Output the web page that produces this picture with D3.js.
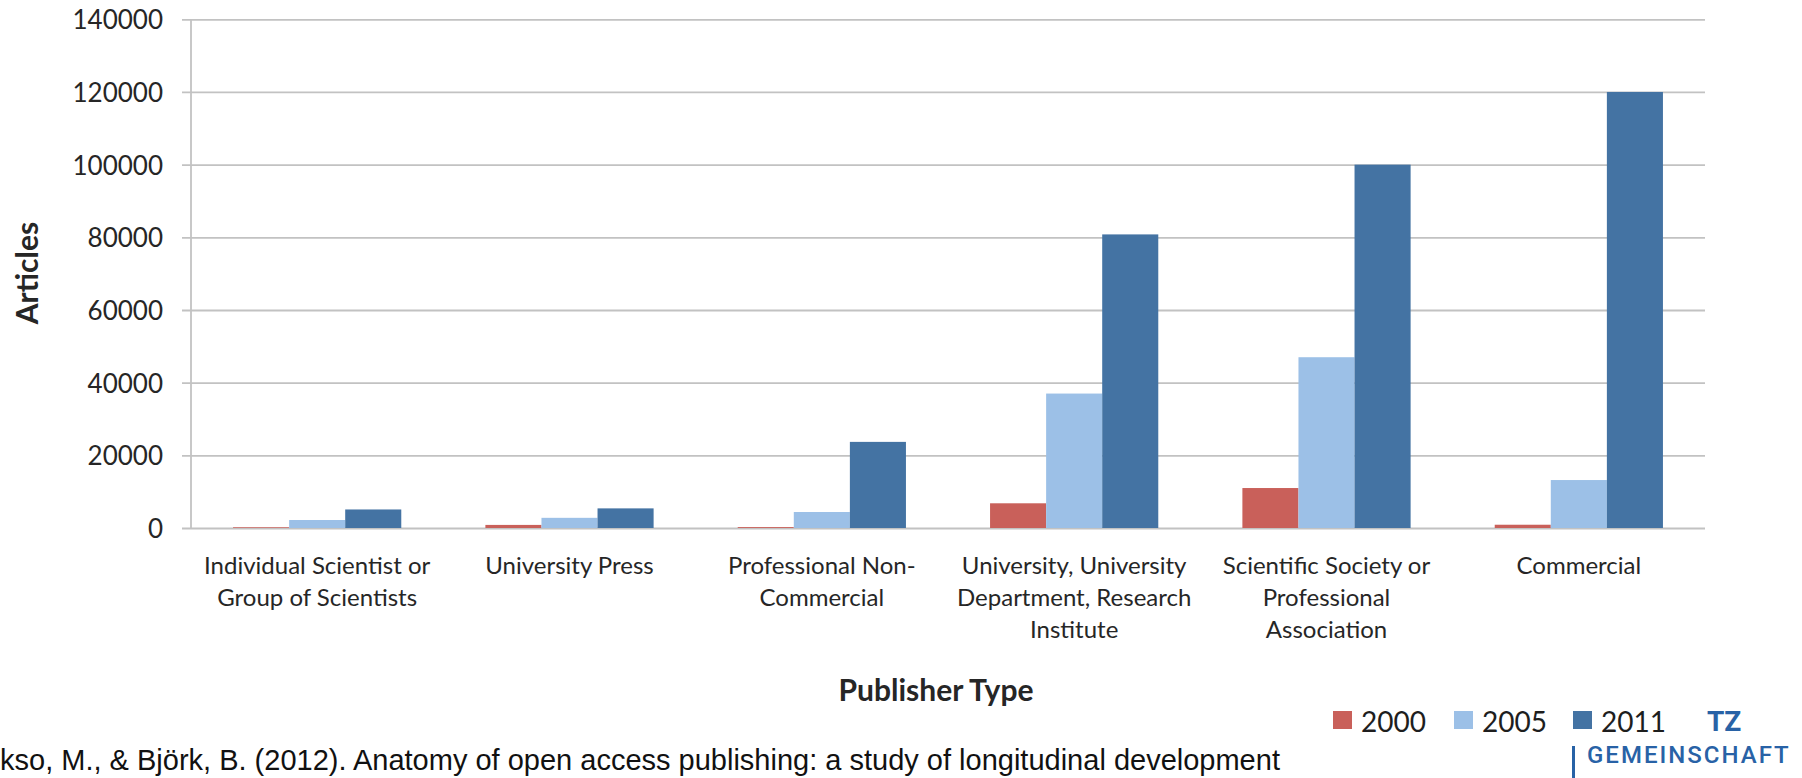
<!DOCTYPE html>
<html>
<head>
<meta charset="utf-8">
<script src="https://cdn.jsdelivr.net/npm/d3@7"></script>
<style>
  html, body { margin: 0; padding: 0; background: #ffffff; }
  svg { display: block; }
</style>
</head>
<body>
<svg id="chart" width="1802" height="778"></svg>
<script>
const categories = [
  "Individual Scientist or Group of Scientists",
  "University Press",
  "Professional Non-Commercial",
  "University, University Department, Research Institute",
  "Scientific Society or Professional Association",
  "Commercial"
];
const categoryLines = [
  ["Individual Scientist or", "Group of Scientists"],
  ["University Press"],
  ["Professional Non-", "Commercial"],
  ["University, University", "Department, Research", "Institute"],
  ["Scientific Society or", "Professional", "Association"],
  ["Commercial"]
];
const years = ["2000", "2005", "2011"];
const values2000 = [200, 850, 250, 6800, 11000, 900];
const values2005 = [2200, 2800, 4400, 37000, 47000, 13200];
const values2011 = [5100, 5400, 23700, 80800, 100000, 120000];
const yTicks = [0, 20000, 40000, 60000, 80000, 100000, 120000, 140000];
const colors = ["#c9605a", "#9cc0e7", "#4473a3"];
const yTitle = "Articles";
const xTitle = "Publisher Type";
const citation = "kso, M., & Björk, B. (2012). Anatomy of open access publishing: a study of longitudinal development";

(function draw() {
const series = [values2000, values2005, values2011];
const svg = d3.select("#chart");

const pLeft = 191, pRight = 1705, pTop = 19.3, pBottom = 528;
const x = d3.scaleBand().domain(categories).range([pLeft, pRight]);
const xs = d3.scaleBand().domain(years).range([0, x.bandwidth()]).paddingOuter(0.75).paddingInner(0);
const y = d3.scaleLinear().domain([0, 140000]).range([pBottom, pTop]);

const textColor = "#262626";
const gridColor = "#c2c2c2";

// Gridlines + y axis
const yAxis = d3.axisLeft(y).tickValues(yTicks).tickSize(-(pRight - pLeft)).tickPadding(28).tickFormat(d3.format("d"));
const gy = svg.append("g").attr("transform", `translate(${pLeft},0)`).call(yAxis);
gy.select(".domain").remove();
gy.selectAll(".tick line").attr("stroke", gridColor).attr("stroke-width", 1.8).attr("x1", -9);
gy.selectAll(".tick text")
  .attr("fill", textColor)
  .style("font-family", "Lato, 'Open Sans', sans-serif")
  .style("font-size", "26px")
  .attr("dy", "0.36em");
svg.append("line")
  .attr("x1", pLeft).attr("x2", pLeft)
  .attr("y1", y(140000)).attr("y2", y(0))
  .attr("stroke", gridColor).attr("stroke-width", 1.8);

// Bars
const groups = svg.append("g").selectAll("g")
  .data(categories)
  .join("g")
  .attr("transform", d => `translate(${x(d)},0)`);

groups.selectAll("rect")
  .data((d, i) => years.map((yr, k) => ({ yr, k, v: series[k][i] })))
  .join("rect")
  .attr("x", d => xs(d.yr))
  .attr("width", xs.bandwidth())
  .attr("y", d => y(d.v))
  .attr("height", d => y(0) - y(d.v))
  .attr("fill", d => colors[d.k]);

// Category labels
const lineYs = [564, 596, 628];
categories.forEach((c, i) => {
  const t = svg.append("text")
    .attr("text-anchor", "middle")
    .attr("fill", textColor)
    .style("font-family", "Lato, 'Open Sans', sans-serif")
    .style("font-size", "24px");
  categoryLines[i].forEach((ln, j) => {
    t.append("tspan")
      .attr("x", x(c) + x.bandwidth() / 2)
      .attr("y", lineYs[j])
      .attr("dominant-baseline", "central")
      .text(ln);
  });
});

// Axis titles
svg.append("text")
  .attr("transform", "translate(26,273) rotate(-90)")
  .attr("text-anchor", "middle")
  .attr("dominant-baseline", "central")
  .attr("fill", textColor)
  .style("font-family", "Lato, 'Open Sans', sans-serif")
  .style("font-weight", "bold")
  .style("font-size", "30px")
  .text(yTitle);

svg.append("text")
  .attr("x", 936).attr("y", 689)
  .attr("text-anchor", "middle")
  .attr("dominant-baseline", "central")
  .attr("fill", textColor)
  .style("font-family", "Lato, 'Open Sans', sans-serif")
  .style("font-weight", "bold")
  .style("font-size", "30px")
  .text(xTitle);

// Legend
const legendX = [1333, 1454, 1573];
years.forEach((yr, k) => {
  svg.append("rect")
    .attr("x", legendX[k]).attr("y", 711)
    .attr("width", 19).attr("height", 18)
    .attr("fill", colors[k]);
  svg.append("text")
    .attr("x", legendX[k] + 28).attr("y", 721)
    .attr("dominant-baseline", "central")
    .attr("fill", "#1e1e1e")
    .style("font-family", "Lato, 'Open Sans', sans-serif")
    .style("font-size", "28px")
    .text(yr);
});

// Citation
svg.append("text")
  .attr("x", 0).attr("y", 760)
  .attr("dominant-baseline", "central")
  .attr("fill", "#111")
  .style("font-family", "'Liberation Sans', Arial, sans-serif")
  .style("font-size", "29px")
  .text(citation);

// Logo fragment
svg.append("text")
  .attr("x", 1707).attr("y", 721)
  .attr("dominant-baseline", "central")
  .attr("fill", "#2862a6")
  .style("font-family", "Roboto, 'Noto Sans', sans-serif")
  .style("font-weight", "bold")
  .style("font-size", "28px")
  .text("TZ");
svg.append("rect")
  .attr("x", 1572).attr("y", 746).attr("width", 3).attr("height", 32)
  .attr("fill", "#2862a6");
svg.append("text")
  .attr("x", 1587).attr("y", 755)
  .attr("dominant-baseline", "central")
  .attr("fill", "#2862a6")
  .style("font-family", "Roboto, 'Noto Sans', sans-serif")
  .style("font-weight", "500")
  .style("font-size", "24px")
  .style("letter-spacing", "2px")
  .text("GEMEINSCHAFT");
})();
</script>
</body>
</html>
